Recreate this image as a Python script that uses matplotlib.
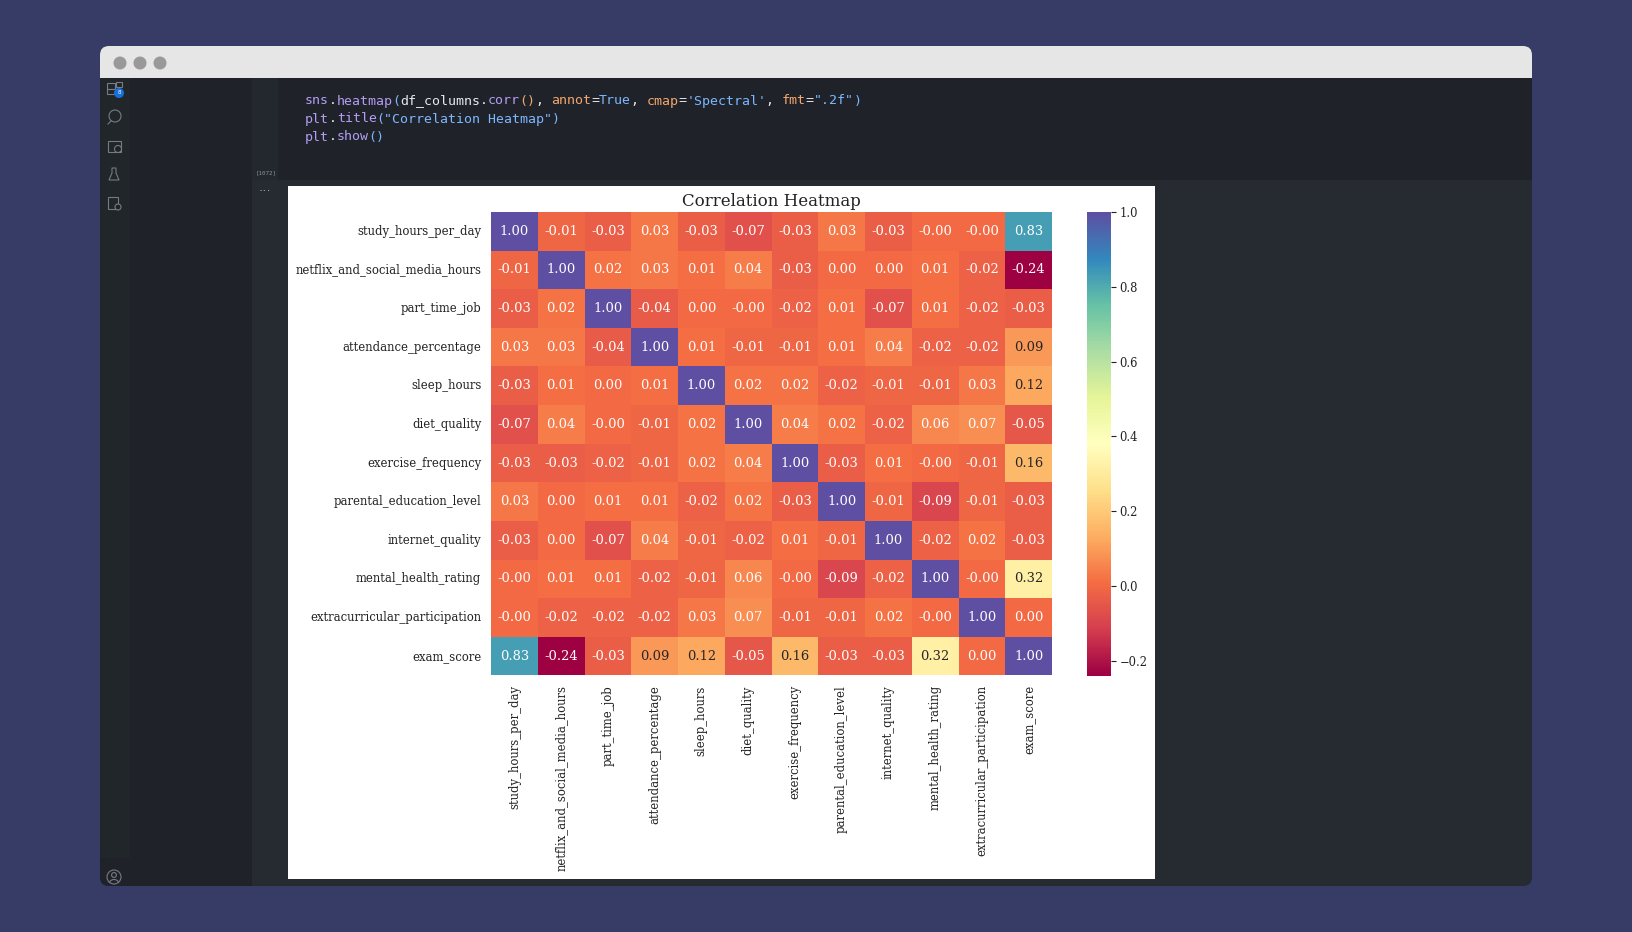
import matplotlib
matplotlib.use("Agg")
import numpy as np
import seaborn as sns
from matplotlib import pyplot as plt
from matplotlib.patches import Arc, Circle, FancyBboxPatch, Polygon, Rectangle

## DATA --------------------------------------------------------------
columns = ["study_hours_per_day", "netflix_and_social_media_hours", "part_time_job",
           "attendance_percentage", "sleep_hours", "diet_quality", "exercise_frequency",
           "parental_education_level", "internet_quality", "mental_health_rating",
           "extracurricular_participation", "exam_score"]

corr = np.array([
    [1.00, -0.01, -0.03, 0.03, -0.03, -0.07, -0.03, 0.03, -0.03, -0.0, -0.0, 0.83],
    [-0.01, 1.00, 0.02, 0.03, 0.01, 0.04, -0.03, 0.00, 0.00, 0.01, -0.02, -0.24],
    [-0.03, 0.02, 1.00, -0.04, 0.00, -0.0, -0.02, 0.01, -0.07, 0.01, -0.02, -0.03],
    [0.03, 0.03, -0.04, 1.00, 0.01, -0.01, -0.01, 0.01, 0.04, -0.02, -0.02, 0.09],
    [-0.03, 0.01, 0.00, 0.01, 1.00, 0.02, 0.02, -0.02, -0.01, -0.01, 0.03, 0.12],
    [-0.07, 0.04, -0.0, -0.01, 0.02, 1.00, 0.04, 0.02, -0.02, 0.06, 0.07, -0.05],
    [-0.03, -0.03, -0.02, -0.01, 0.02, 0.04, 1.00, -0.03, 0.01, -0.0, -0.01, 0.16],
    [0.03, 0.00, 0.01, 0.01, -0.02, 0.02, -0.03, 1.00, -0.01, -0.09, -0.01, -0.03],
    [-0.03, 0.00, -0.07, 0.04, -0.01, -0.02, 0.01, -0.01, 1.00, -0.02, 0.02, -0.03],
    [-0.0, 0.01, 0.01, -0.02, -0.01, 0.06, -0.0, -0.09, -0.02, 1.00, -0.0, 0.32],
    [-0.0, -0.02, -0.02, -0.02, 0.03, 0.07, -0.01, -0.01, 0.02, -0.0, 1.00, 0.00],
    [0.83, -0.24, -0.03, 0.09, 0.12, -0.05, 0.16, -0.03, -0.03, 0.32, 0.00, 1.00],
])

# code lines as (text, colour) tokens
PURPLE = "#b39df3"
BLUE = "#7cb7ff"
WHITE = "#e6e8ee"
ORANGE = "#f5a66a"
code_lines = [
    [("sns", PURPLE), (".", WHITE), ("heatmap", PURPLE), ("(", BLUE), ("df_columns", WHITE), (".", WHITE),
     ("corr", PURPLE), ("()", ORANGE), (", ", WHITE), ("annot", ORANGE), ("=", WHITE), ("True", BLUE),
     (", ", WHITE), ("cmap", ORANGE), ("=", WHITE), ("'Spectral'", BLUE), (", ", WHITE), ("fmt", ORANGE),
     ("=", WHITE), ('".2f"', BLUE), (")", BLUE)],
    [("plt", PURPLE), (".", WHITE), ("title", PURPLE), ("(", BLUE), ('"Correlation Heatmap"', BLUE), (")", BLUE)],
    [("plt", PURPLE), (".", WHITE), ("show", PURPLE), ("()", BLUE)],
]

W, H = 1632, 932
BG = "#363c66"
DARK = "#1f2329"
OUTPUT = "#262a31"
fig = plt.figure(figsize=(W / 100, H / 100), dpi=100, facecolor=BG)


def px_axes(x0, y0, x1, y1):
    # axes from pixel box, y measured from the top
    return fig.add_axes([x0 / W, 1 - y1 / H, (x1 - x0) / W, (y1 - y0) / H])


## WINDOW ------------------------------------------------------------
chrome = fig.add_axes([0, 0, 1, 1])
chrome.set_xlim(0, W)
chrome.set_ylim(H, 0)
chrome.axis("off")

chrome.add_patch(FancyBboxPatch((100, 46), 1432, 840, boxstyle="round,pad=0,rounding_size=9",
                                fc=OUTPUT, ec="none"))
chrome.add_patch(FancyBboxPatch((100, 46), 1432, 50, boxstyle="round,pad=0,rounding_size=9",
                                fc="#e6e6e6", ec="none"))
chrome.add_patch(Rectangle((100, 78), 1432, 102, fc=DARK, ec="none"))
chrome.add_patch(FancyBboxPatch((100, 300), 152, 586, boxstyle="round,pad=0,rounding_size=9",
                                fc=DARK, ec="none"))
chrome.add_patch(Rectangle((130, 78), 122, 808, fc=DARK, ec="none"))
chrome.add_patch(Rectangle((100, 78), 30, 780, fc="#21262b", ec="none"))
chrome.add_patch(Rectangle((252, 78), 26, 102, fc="#23272e", ec="none"))
chrome.add_patch(Rectangle((288, 186), 867, 692.5, fc="white", ec="none"))
for cx in (120, 140, 160):
    chrome.add_patch(Circle((cx, 63), 6.5, fc="#999999", ec="none"))

# activity bar icons
ICON = "#767b84"
for (x, y, w, h) in [(107, 83, 8, 5.5), (107, 88.5, 8, 5.5), (116, 82, 5.5, 5)]:
    chrome.add_patch(Rectangle((x, y), w, h, fc="none", ec=ICON, lw=0.8))
chrome.add_patch(Circle((119, 93), 5, fc="#1670d8", ec="none"))
chrome.text(119, 93, "8", color="white", fontsize=4, ha="center", va="center")
chrome.add_patch(Circle((115, 116), 6, fc="none", ec=ICON, lw=0.8))
chrome.plot([111, 108], [121, 124], color=ICON, lw=0.8)
chrome.add_patch(Rectangle((108, 141), 13, 11, fc="none", ec=ICON, lw=0.8))
chrome.add_patch(Circle((118, 149), 3.5, fc=DARK, ec=ICON, lw=0.8))
chrome.add_patch(Polygon([[112, 168], [116, 168], [116, 173], [119, 180], [109, 180], [112, 173]],
                         fc="none", ec=ICON, lw=0.8))
chrome.add_patch(Rectangle((108, 197), 10, 12, fc="none", ec=ICON, lw=0.8))
chrome.add_patch(Circle((118, 207), 3, fc=DARK, ec=ICON, lw=0.8))
chrome.add_patch(Circle((114, 877), 7, fc="none", ec=ICON, lw=0.8))
chrome.add_patch(Circle((114, 875), 2.4, fc="none", ec=ICON, lw=0.8))
chrome.add_patch(Arc((114, 883), 9, 7, theta1=180, theta2=360, ec=ICON, lw=0.8))

chrome.text(266.5, 173, "[1072]", color="#8a8f98", fontsize=4.2, family="DejaVu Sans Mono",
            ha="center", va="center")
chrome.text(265, 189, "...", color="#c0c4cc", fontsize=5, family="DejaVu Sans Mono",
            ha="center", va="center", fontweight="bold")

# code block
char_w = 7.95
for line, y in zip(code_lines, (101, 119, 137)):
    x = 305
    for token, colour in line:
        chrome.text(x, y, token, color=colour, fontsize=9.5, family="DejaVu Sans Mono",
                    ha="left", va="center")
        x += char_w * len(token)

## HEATMAP -----------------------------------------------------------
plt.rcParams["font.family"] = "DejaVu Serif"
ax = px_axes(491, 212, 1052, 675.5)
cax = px_axes(1087, 212, 1110.5, 675.5)
sns.heatmap(corr, annot=True, cmap="Spectral", fmt=".2f", ax=ax, cbar_ax=cax,
            xticklabels=columns, yticklabels=columns, annot_kws={"fontsize": 9.4})
ax.tick_params(axis="both", length=0, labelsize=8.35, colors="#222222")
ax.tick_params(axis="x", pad=7, labelrotation=90)
ax.tick_params(axis="y", pad=7, labelrotation=0)
ax.set_title("Correlation Heatmap", fontsize=12, pad=4.5, color="#222222")
cax.tick_params(labelsize=8.3, length=3.5, width=0.8, pad=3, colors="#222222")

fig.savefig("out.png", dpi=100, facecolor=BG)
